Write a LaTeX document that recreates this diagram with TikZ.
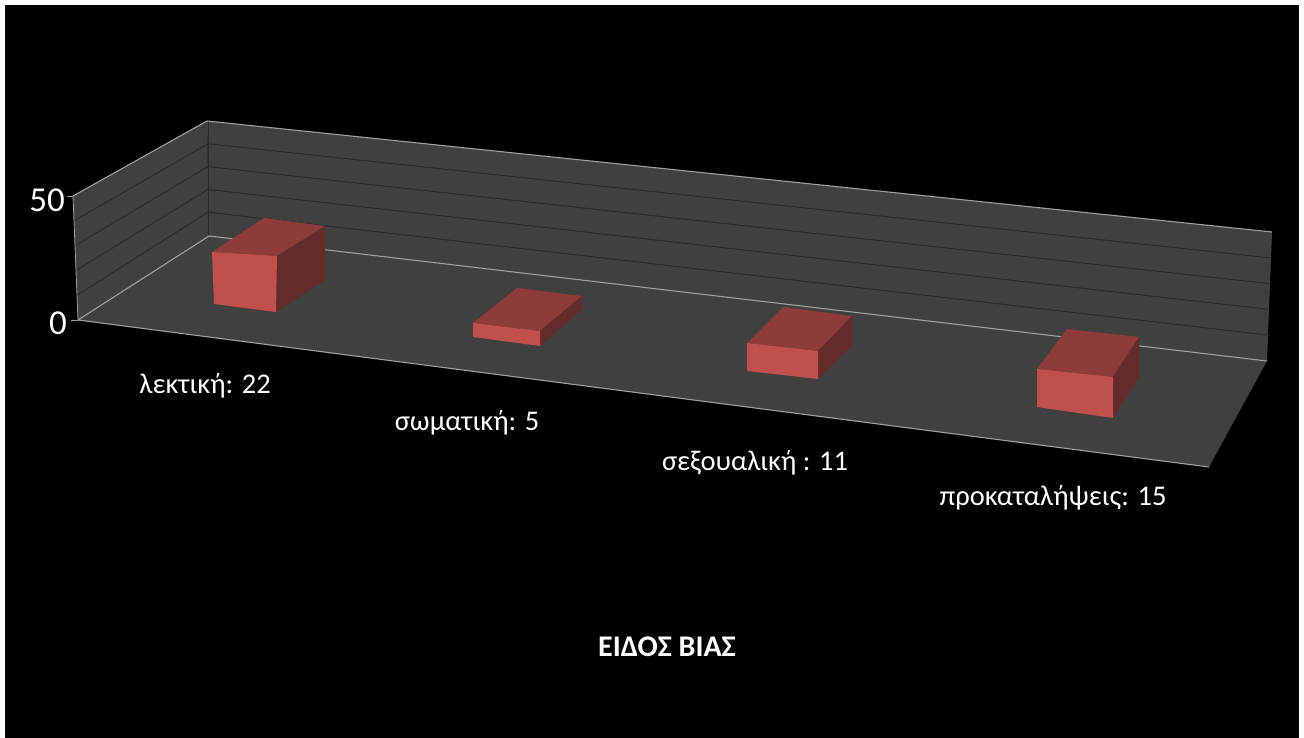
\documentclass[tikz,border=0pt]{standalone}
\usepackage{fontspec}
\setmainfont{Carlito}
\begin{document}
\begin{tikzpicture}[x=1pt,y=-1pt,
  wall/.style={fill=wallgray},
  edge/.style={draw=edgegray,line width=1.1pt},
  grid/.style={draw=gridgray,line width=1pt},
  front/.style={fill=barfront},
  topf/.style={fill=bartop},
  sidef/.style={fill=barside},
  lab/.style={text=white,font=\fontsize{28.5}{32}\selectfont,inner sep=0pt},
  axlab/.style={text=white,font=\fontsize{35}{38}\selectfont,inner sep=0pt,anchor=east},
  title/.style={text=white,font=\bfseries\fontsize{30}{34}\selectfont,inner sep=0pt}]
\definecolor{wallgray}{HTML}{404040}
\definecolor{edgegray}{HTML}{A0A0A0}
\definecolor{gridgray}{HTML}{2A2A2A}
\definecolor{barfront}{HTML}{C0504D}
\definecolor{bartop}{HTML}{8E3C3A}
\definecolor{barside}{HTML}{632B29}
\useasboundingbox (0,0) rectangle (1304,738);
\fill[white] (0,0) rectangle (1304,738);
\fill[black] (5,5) rectangle (1299,738);
% walls and floor
\fill[wall] (73,196) -- (207,121) -- (209,236) -- (78,320) -- cycle;
\fill[wall] (207,121) -- (1272,232) -- (1267,361) -- (209,236) -- cycle;
\fill[wall] (78,320) -- (209,236) -- (1267,361) -- (1209,467) -- cycle;
% gridlines
\foreach \k in {1,2,3,4}{
  \draw[grid] (208,{235-\k*22.8}) -- ({1269.5},{361-\k*25.8});
  \draw[grid] ({78-\k},{320-\k*24.8}) -- (208,{235-\k*22.8});
}
\draw[grid] (208,121) -- (208,235);
% axis edges
\draw[edge] (73,196) -- (207,121) -- (1272,232);
\draw[edge] (78,320) -- (209,236) -- (1267,361);
\draw[edge] (78,320) -- (1209,467);
\draw[edge,line width=0.8pt] (73,196) -- (78,320);
\draw[edge,line width=0.8pt] (67,196) -- (73,196);
\draw[edge,line width=0.8pt] (71,320) -- (78,320);
% bar 1
\fill[topf] (212,252) -- (277,256) -- (325,226) -- (264,218) -- cycle;
\fill[sidef] (277,256) -- (325,226) -- (325,280) -- (276,312) -- cycle;
\fill[front] (212,252) -- (277,256) -- (276,312) -- (214,304) -- cycle;
% bar 2
\fill[topf] (473,323) -- (540,331) -- (582,296) -- (517,288) -- cycle;
\fill[sidef] (540,331) -- (582,296) -- (582,309) -- (540,346) -- cycle;
\fill[front] (473,323) -- (540,331) -- (540,346) -- (473,337) -- cycle;
% bar 3
\fill[topf] (747,343) -- (818,351) -- (852,316) -- (783,307) -- cycle;
\fill[sidef] (818,351) -- (852,316) -- (852,346) -- (818,379) -- cycle;
\fill[front] (747,343) -- (818,351) -- (818,379) -- (747,371) -- cycle;
% bar 4
\fill[topf] (1037,369) -- (1113,377) -- (1139,337) -- (1067,329) -- cycle;
\fill[sidef] (1113,377) -- (1139,337) -- (1139,378) -- (1113,418) -- cycle;
\fill[front] (1037,369) -- (1113,377) -- (1113,418) -- (1037,407) -- cycle;
% labels
\node[axlab] (y50) at (65,200) {50};
\node[axlab] (y0) at (67,323) {0};
\node[lab] (l1) at (205,386) {λεκτική: 22};
\node[lab] (l2) at (467,423) {σωματική: 5};
\node[lab] (l3) at (755,463) {σεξουαλική : 11};
\node[lab] (l4) at (1053,498) {προκαταλήψεις: 15};
\node[title] (t) at (667,647) {ΕΙΔΟΣ ΒΙΑΣ};
\end{tikzpicture}
\end{document}
